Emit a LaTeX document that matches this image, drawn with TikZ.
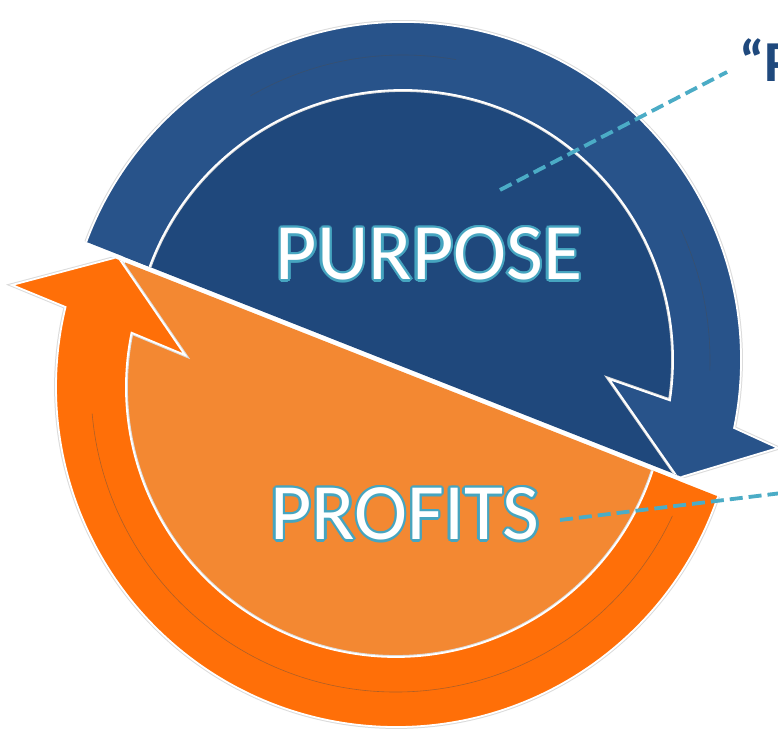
\documentclass[tikz,border=0pt]{standalone}
\usepackage{fontspec}
\setmainfont{Carlito}
\definecolor{bandblue}{RGB}{40,83,138}
\definecolor{diskblue}{RGB}{31,72,124}
\definecolor{bandorange}{RGB}{255,111,8}
\definecolor{diskorange}{RGB}{243,136,50}
\definecolor{dashteal}{RGB}{75,172,198}
\definecolor{glowteal}{RGB}{70,165,192}
\definecolor{quoteblue}{RGB}{31,73,125}
\begin{document}
\begin{tikzpicture}[x=1pt, y=1pt,
    band/.style={draw=white, line width=1.8pt, preaction={draw=black!14, line width=3.8pt}},
    disk/.style={draw=none},
    word/.style={font=\fontsize{80}{96}\selectfont, inner sep=0pt},
    leaderline/.style={draw=dashteal, line width=3.8pt, dash pattern=on 13pt off 6pt},
    faint/.style={draw=black!70, line width=0.6pt, opacity=0.45}]
  \useasboundingbox (0,0) rectangle (778,732);
  \fill[white] (0,0) rectangle (778,732);
  \clip (0,0) rectangle (778,732);

  % purpose half with its arrow
  \begin{scope}
    \clip (-441.1,698.3) -- (1238.9,35.3) -- (1238.9,1000) -- (-441.1,1000) -- cycle;
    \begin{scope}[shift={(403,372)}]
      \fill[disk, fill=diskblue] (0,0) circle[radius=298];
      \draw[band, fill=bandblue] (165:338) arc[start angle=165, end angle=-11.6, radius=338]
        -- (375,-88) -- (275,-118) -- (206,-19)
        -- (-8.6:270) arc[start angle=-8.6, end angle=165, radius=270] -- cycle;
      \draw[faint] (120:305) arc[start angle=120, end angle=80, radius=305];
      \draw[faint] (25:307) arc[start angle=25, end angle=-2, radius=307];
    \end{scope}
  \end{scope}

  % profits half with its arrow
  \begin{scope}
    \clip (-442.9,693.7) -- (1237.1,30.7) -- (1237.1,-300) -- (-442.9,-300) -- cycle;
    \begin{scope}[shift={(396,345)}]
      \fill[disk, fill=diskorange] (0,0) circle[radius=298];
      \draw[band, fill=bandorange] (-5:340) arc[start angle=-5, end angle=-193.6, radius=340]
        -- (-384,102) -- (-278,130) -- (-211,32)
        -- (168.4:270) arc[start angle=-191.6, end angle=-5, radius=270] -- cycle;
      \draw[faint] (185:305) arc[start angle=185, end angle=335, radius=305];
    \end{scope}
  \end{scope}

  % words, teal rim first
  \foreach \a in {0,30,...,330} {
    \node[word, text=glowteal] at ([shift={(\a:2.4)}]429,478) {PURPOSE};
    \node[word, text=glowteal] at ([shift={(\a:2.4)}]405,218) {PROFITS};
  }
  \node[word, text=white] (purpose) at (429,478) {PURPOSE};
  \node[word, text=white] (profits) at (405,218) {PROFITS};
  \node[font=\bfseries\fontsize{58}{66}\selectfont, text=quoteblue, anchor=base west, inner sep=0pt] (quote) at (739,650) {“P};

  % leader lines
  \coordinate (purposelead) at (500,542);
  \coordinate (quotelead) at (727,660);
  \coordinate (profitslead) at (560,212);
  \coordinate (edgelead) at (790,240);
  \draw[leaderline] (purposelead) -- (quotelead);
  \draw[leaderline] (profitslead) -- (edgelead);
\end{tikzpicture}
\end{document}
